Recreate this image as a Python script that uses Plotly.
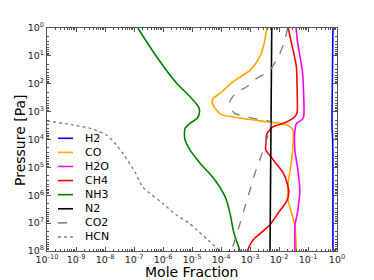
import numpy as np
import plotly.graph_objects as go

# ---- data (log10 values) ----
names = ["H2", "CO", "H2O", "CH4", "NH3", "N2", "CO2", "HCN"]
colors = ["#0000ff", "#ffa500", "#ff00ff", "#ff0000", "#008000", "#000000", "#808080", "#808080"]
dashes = ["solid", "solid", "solid", "solid", "solid", "solid", "dash", "dot"]

h2_logp = [0, 1, 2, 3, 3.5, 4, 5, 6, 7, 8]
h2_logx = [-0.14, -0.15, -0.16, -0.17, -0.17, -0.15, -0.14, -0.14, -0.14, -0.14]

co_logp = [0, 0.5, 1.03, 1.5, 1.92, 2.34, 2.54, 2.7, 2.91, 3.1, 3.2, 3.28, 3.34, 3.42, 3.54, 3.7,
           4.4, 5.0, 5.5, 5.87, 6.22, 6.7, 7.12, 8]
co_logx = [-2.42, -2.5, -2.66, -2.98, -3.58, -4.03, -4.28, -4.3, -4.18, -4.0, -3.55, -3.0, -2.6, -2.0,
           -1.62, -1.51, -1.53, -1.6, -1.68, -1.7, -1.68, -1.55, -1.45, -1.4]

h2o_logp = [0, 0.5, 1.0, 1.5, 2.1, 3.18, 3.3, 3.42, 3.66, 4.4, 5.0, 5.85, 6.6, 7.1, 8]
h2o_logx = [-1.41, -1.36, -1.28, -1.2, -1.16, -1.15, -1.22, -1.39, -1.45, -1.45, -1.36, -1.28, -1.36, -1.45, -1.45]

ch4_logp = [0, 0.5, 1.0, 1.4, 2.0, 3.0, 3.1, 3.24, 3.42, 3.54, 3.72, 3.84, 4.13, 4.37, 4.55, 4.85,
            5.21, 5.57, 5.9, 6.22, 6.64, 7.06, 7.24, 7.6, 8]
ch4_logx = [-1.68, -1.58, -1.47, -1.4, -1.38, -1.37, -1.4, -1.52, -1.85, -2.2, -2.37, -2.43, -2.45,
            -2.46, -2.33, -2.11, -1.85, -1.72, -1.66, -1.74, -2.03, -2.31, -2.5, -2.89, -3.1]

nh3_logp = [0, 1.03, 1.98, 2.46, 2.82, 3.0, 3.24, 3.42, 3.6, 3.84, 4.01, 4.37, 4.85, 5.45, 6.05,
            6.64, 7.24, 7.6, 8]
nh3_logx = [-6.87, -6.22, -5.53, -5.07, -4.78, -4.74, -4.82, -5.07, -5.24, -5.26, -5.24, -5.07,
            -4.72, -4.21, -3.86, -3.69, -3.58, -3.48, -3.34]

n2_logp = [0, 4, 8]
n2_logx = [-2.25, -2.28, -2.31]

co2_logp = [0, 0.5, 0.91, 1.51, 1.86, 2.1, 2.3, 2.58, 2.82, 3.06, 3.24, 3.36, 3.6, 4.07, 4.61,
            5.21, 5.81, 6.4, 7.0, 7.6, 8]
co2_logx = [-1.7, -1.82, -1.97, -2.31, -2.85, -3.1, -3.45, -3.67, -3.71, -3.52, -2.89, -2.31,
            -2.3, -2.45, -2.62, -2.83, -3.0, -3.17, -3.34, -3.52, -3.63]

hcn_logp = [3.33, 3.48, 3.6, 3.84, 4.2, 4.55, 5.2, 5.7, 6.3, 6.7, 7.0, 7.24, 7.6, 8.0]
hcn_logx = [-10, -9.1, -8.5, -7.95, -7.6, -7.35, -6.95, -6.7, -6.0, -5.55, -5.1, -4.84, -4.45, -4.03]

series_logp = [h2_logp, co_logp, h2o_logp, ch4_logp, nh3_logp, n2_logp, co2_logp, hcn_logp]
series_logx = [h2_logx, co_logx, h2o_logx, ch4_logx, nh3_logx, n2_logx, co2_logx, hcn_logx]

x_exponents = list(range(-10, 1))
y_exponents = list(range(0, 9))

fig = go.Figure()
for name, c, d, lp, lx in zip(names, colors, dashes, series_logp, series_logx):
    fig.add_trace(go.Scatter(
        x=10.0 ** np.array(lx), y=10.0 ** np.array(lp), mode="lines", name=name,
        line=dict(color=c, width=1.6 if d == "solid" else 1.4, dash=d, shape="spline", smoothing=0.7),
        showlegend=False))

# custom legend (compact spacing like the original)
x0, x1, xt = 0.038, 0.0897, 0.124
ytop, step = 0.5054, 0.0632
for i, (name, c, d) in enumerate(zip(names, colors, dashes)):
    yy = ytop - i * step
    fig.add_shape(type="line", xref="paper", yref="paper", x0=x0, x1=x1, y0=yy, y1=yy,
                  line=dict(color=c, width=1.6, dash=d))
    fig.add_annotation(xref="paper", yref="paper", x=xt, y=yy, text=name, showarrow=False,
                       xanchor="left", yanchor="middle", font=dict(size=11, color="#000"))

# axis titles
fig.add_annotation(xref="paper", yref="paper", x=(191 - 47) / 290, y=-(272 - 251) / 223,
                   text="Mole Fraction", showarrow=False, xanchor="center", yanchor="middle",
                   font=dict(size=14, color="#000"))
fig.add_annotation(xref="paper", yref="paper", x=-(47 - 20) / 290, y=1 - (140 - 28) / 223,
                   text="Pressure [Pa]", showarrow=False, xanchor="center", yanchor="middle",
                   textangle=-90, font=dict(size=14, color="#000"))

minor_x = [m * 10.0 ** e for e in range(-10, 0) for m in range(2, 10)]
minor_y = [m * 10.0 ** e for e in range(0, 8) for m in range(2, 10)]

axis_common = dict(showgrid=False, zeroline=False, showline=True, linecolor="#555555", linewidth=1,
                   mirror="ticks", ticks="inside", ticklen=4, tickcolor="#555555",
                   tickfont=dict(size=9.5, color="#222"), automargin=False)
fig.update_xaxes(type="log", range=[-10, 0], tickmode="array",
                 tickvals=[10.0 ** e for e in x_exponents],
                 ticktext=["10<sup>%d</sup>" % e for e in x_exponents],
                 minor=dict(ticks="inside", ticklen=2, tickcolor="#555555", tickmode="array",
                            tickvals=minor_x),
                 **axis_common)
fig.update_yaxes(type="log", range=[8, 0], tickmode="array",
                 tickvals=[10.0 ** e for e in y_exponents],
                 ticktext=["10<sup>%d</sup>" % e for e in y_exponents],
                 minor=dict(ticks="inside", ticklen=2, tickcolor="#555555", tickmode="array",
                            tickvals=minor_y),
                 **axis_common)

fig.update_layout(width=374, height=280, margin=dict(l=47, r=37, t=28, b=29),
                  paper_bgcolor="white", plot_bgcolor="white",
                  font=dict(family="DejaVu Sans", color="#000"))
fig.write_html("out.html", config={"displayModeBar": False},
               post_script="document.body.style.margin='0';document.body.style.padding='0';"
                           "document.body.style.overflow='hidden';")
